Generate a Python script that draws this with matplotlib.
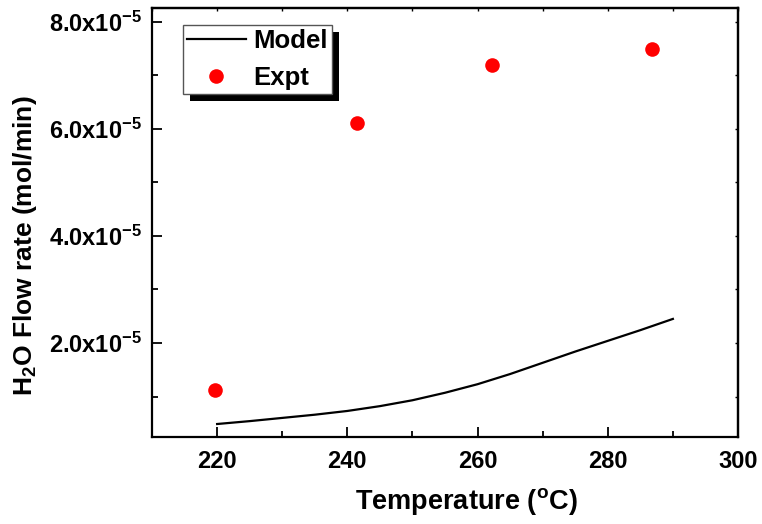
import numpy as np
import matplotlib
matplotlib.use('Agg')
import matplotlib.pyplot as plt
from matplotlib.patches import Rectangle
from matplotlib.ticker import MultipleLocator, FuncFormatter

# ─── data ────────────────────────────────────────────────────────────────────
model_T = [220, 225, 230, 235, 240, 245, 250, 255, 260, 265, 270, 275, 280, 285, 290]
model_rate = [0.486, 0.54, 0.60, 0.66, 0.73, 0.82, 0.93, 1.07, 1.23, 1.42, 1.63, 1.84, 2.04, 2.24, 2.45]
expt_T = [219.6, 241.5, 262.2, 286.8]
expt_rate = [1.12, 6.11, 7.20, 7.50]
scale = 1e-5

plt.rcParams['font.family'] = ['Liberation Sans', 'DejaVu Sans']
plt.rcParams['font.weight'] = 'bold'
plt.rcParams['mathtext.fontset'] = 'custom'
plt.rcParams['mathtext.rm'] = 'Liberation Sans:bold'
plt.rcParams['mathtext.default'] = 'rm'

fig = plt.figure(figsize=(7.62, 5.24), dpi=100)
ax = fig.add_axes([0.1995, 0.166, 0.769, 0.8187])

ax.plot(model_T, np.array(model_rate) * scale, color='black', lw=1.6, label='Model')
ax.plot(expt_T, np.array(expt_rate) * scale, 'o', color='red', ms=10.5,
        markeredgewidth=0, label='Expt')

ax.set_xlim(210, 300)
ax.set_ylim(0.243e-5, 8.26e-5)
ax.xaxis.set_major_locator(MultipleLocator(20))
ax.xaxis.set_minor_locator(MultipleLocator(10))
ax.yaxis.set_major_locator(MultipleLocator(2e-5))
ax.yaxis.set_minor_locator(MultipleLocator(1e-5))
ax.yaxis.set_major_formatter(FuncFormatter(lambda v, p: f'{v / scale:.1f}x10$^{{-5}}$'))

for s in ax.spines.values():
    s.set_linewidth(1.6)
ax.tick_params(which='both', direction='in', width=1.3, labelsize=17, top=False, right=False)
ax.tick_params(which='major', length=7.5)
ax.tick_params(which='minor', length=4.5)
ax.tick_params(axis='x', pad=9)
ax.tick_params(axis='y', pad=7)

# small ticks on top / right
top = ax.secondary_xaxis('top')
top.xaxis.set_major_locator(MultipleLocator(10))
top.tick_params(direction='in', length=2.5, width=1.0, labeltop=False)
right = ax.secondary_yaxis('right')
right.yaxis.set_major_locator(MultipleLocator(1e-5))
right.tick_params(direction='in', length=2.5, width=1.0, labelright=False)
for sec in (top, right):
    for s in sec.spines.values():
        s.set_linewidth(1.6)

ax.set_xlabel('Temperature ($^{o}$C)', fontsize=19.5, fontweight='bold')
ax.set_ylabel('H$_2$O Flow rate (mol/min)', fontsize=19, fontweight='bold')
ax.xaxis.set_label_coords(0.536, -0.115)
ax.yaxis.set_label_coords(-0.193, 0.447)

leg = ax.legend(loc='upper left', bbox_to_anchor=(0.053, 0.960), borderaxespad=0,
                fontsize=18.5, fancybox=False, edgecolor='#555555', framealpha=1,
                handlelength=2.3, handletextpad=0.3, borderpad=0.15, labelspacing=0.5,
                numpoints=1)
leg.get_frame().set_linewidth(1.0)
leg.set_zorder(10)

# hard black drop shadow behind the legend
fig.canvas.draw()
bb = leg.get_window_extent()
W, H = fig.bbox.width, fig.bbox.height
off = 7
ax.add_patch(Rectangle(((bb.x0 + off) / W, (bb.y0 - off) / H), bb.width / W, bb.height / H,
                       transform=fig.transFigure, facecolor='black', edgecolor='none',
                       zorder=9, clip_on=False))

fig.savefig('out.png', dpi=100)
plt.close()
